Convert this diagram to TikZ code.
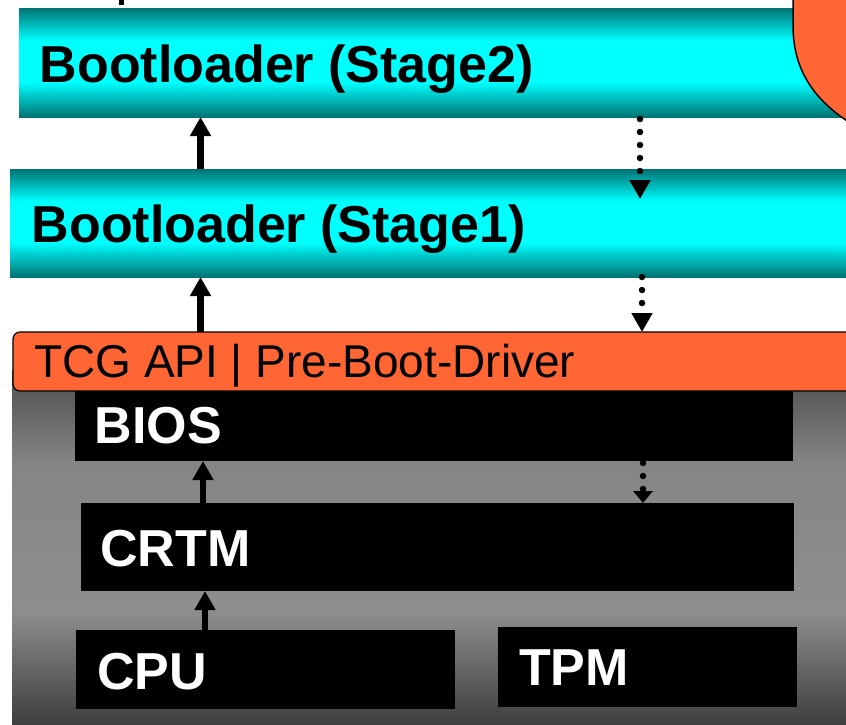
\documentclass[tikz,border=0pt]{standalone}
\usepackage{fontspec}
\setmainfont{Liberation Sans}
\usetikzlibrary{arrows.meta}

\definecolor{tealdark}{HTML}{007373}
\definecolor{cyanmid}{HTML}{00FFFF}
\definecolor{tcgorange}{HTML}{FF6633}
\definecolor{greybottom}{HTML}{3E3E3E}
\definecolor{greymidlow}{HTML}{8E8E8E}
\definecolor{greymidhigh}{HTML}{858585}
\definecolor{greytop}{HTML}{4C4C4C}

% teal edges, bright cyan band in the middle
\pgfdeclareverticalshading{cyanbar}{100bp}{color(0bp)=(tealdark); color(25bp)=(tealdark);
  color(41bp)=(cyanmid); color(60bp)=(cyanmid); color(75bp)=(tealdark); color(100bp)=(tealdark)}
% grey platform: dark at top and bottom, lighter in between
\pgfdeclareverticalshading{greybg}{100bp}{color(0bp)=(greybottom); color(25bp)=(greybottom);
  color(41bp)=(greymidlow); color(62bp)=(greymidhigh); color(75bp)=(greytop); color(100bp)=(greytop)}

\newcommand\bootbold{\fontsize{52}{60}\selectfont\bfseries}
\newcommand\tcgfont{\fontsize{46}{54}\selectfont}

\tikzset{
  box/.style={anchor=north west, inner sep=0pt, outer sep=0pt},
  cyanbox/.style={box, shade, shading=cyanbar},
  blackbox/.style={box, fill=black},
  boxtext/.style={anchor=base west, inner sep=0pt, font=\bootbold},
  solidarrow/.style={line width=6.5pt, -{Triangle[width=20pt,length=19pt]}},
  dotarrow/.style={line width=6.5pt, line cap=round, dash pattern=on 0pt off 13pt,
    -{Triangle[width=20pt,length=19pt]}},
  shortdotarrow/.style={dotarrow, -{Triangle[width=19pt,length=12pt]}}
}

\begin{document}
\begin{tikzpicture}[x=1pt, y=-1pt]
\useasboundingbox (0,0) rectangle (846,724);
\fill[white] (0,0) rectangle (846,724);

% grey hardware platform
\shade[shading=greybg] (12,370) rectangle (846,724);

% hardware / firmware blocks
\node[blackbox, minimum width=718pt, minimum height=75pt] (bios) at (75,386) {};
\node[blackbox, minimum width=713pt, minimum height=88pt] (crtm) at (81,503) {};
\node[blackbox, minimum width=379pt, minimum height=79pt] (cpu) at (76,630) {};
\node[blackbox, minimum width=299pt, minimum height=80pt] (tpm) at (498,627) {};
\node[boxtext, text=white] (biostxt) at (94.5,443) {BIOS};
\node[boxtext, text=white] (crtmtxt) at (100,566) {CRTM};
\node[boxtext, text=white] (cputxt) at (97,689) {CPU};
\node[boxtext, text=white] (tpmtxt) at (519,685) {TPM};

% TCG interface bar
\node[box, draw=black, fill=tcgorange, line width=1.2pt, rounded corners=7pt,
  minimum width=850pt, minimum height=59pt] (tcg) at (13,332) {};
\node[anchor=base west, inner sep=0pt, font=\tcgfont] (tcgtxt) at (34,377)
  {TCG API | Pre-Boot-Driver};

% bootloader stages
\node[cyanbox, minimum width=840pt, minimum height=109pt] (stage2) at (19,8) {};
\node[cyanbox, minimum width=850pt, minimum height=108pt] (stage1) at (10,169) {};
\node[boxtext] (stage2txt) at (39.5,82.5) {Bootloader (Stage2)};
\node[boxtext] (stage1txt) at (31.5,242) {Bootloader (Stage1)};

% descender of the line above
\fill (119,0) rectangle (124,5);

% chain of trust (solid, upward)
\coordinate (ua) at (200.5,0);
\coordinate (ub) at (203,0);
\coordinate (uc) at (205,0);
\draw[solidarrow] (stage1.north -| ua) -- (stage2.south -| ua);
\draw[solidarrow] (tcg.north -| ua) -- (stage1.south -| ua);
\draw[solidarrow] (crtm.north -| ub) -- (bios.south -| ub);
\draw[solidarrow] (cpu.north -| uc) -- (crtm.south -| uc);

% measurement flow (dotted, downward)
\coordinate (da) at (640,199);
\coordinate (db) at (642,0);
\coordinate (dc) at (643,0);
\draw[dotarrow] ([yshift=-2pt]stage2.south -| da) -- (da);
\draw[dotarrow] (stage1.south -| db) -- (tcg.north -| db);
\draw[shortdotarrow] ([yshift=-2pt]bios.south -| dc) -- (crtm.north -| dc);

% corner of the orange shape at top right
\draw[fill=tcgorange, line width=1.5pt] (793,-6) -- (793,25)
  .. controls (793,60) and (805,95) .. (852,124) -- (860,124) -- (860,-6) -- cycle;
\end{tikzpicture}
\end{document}
